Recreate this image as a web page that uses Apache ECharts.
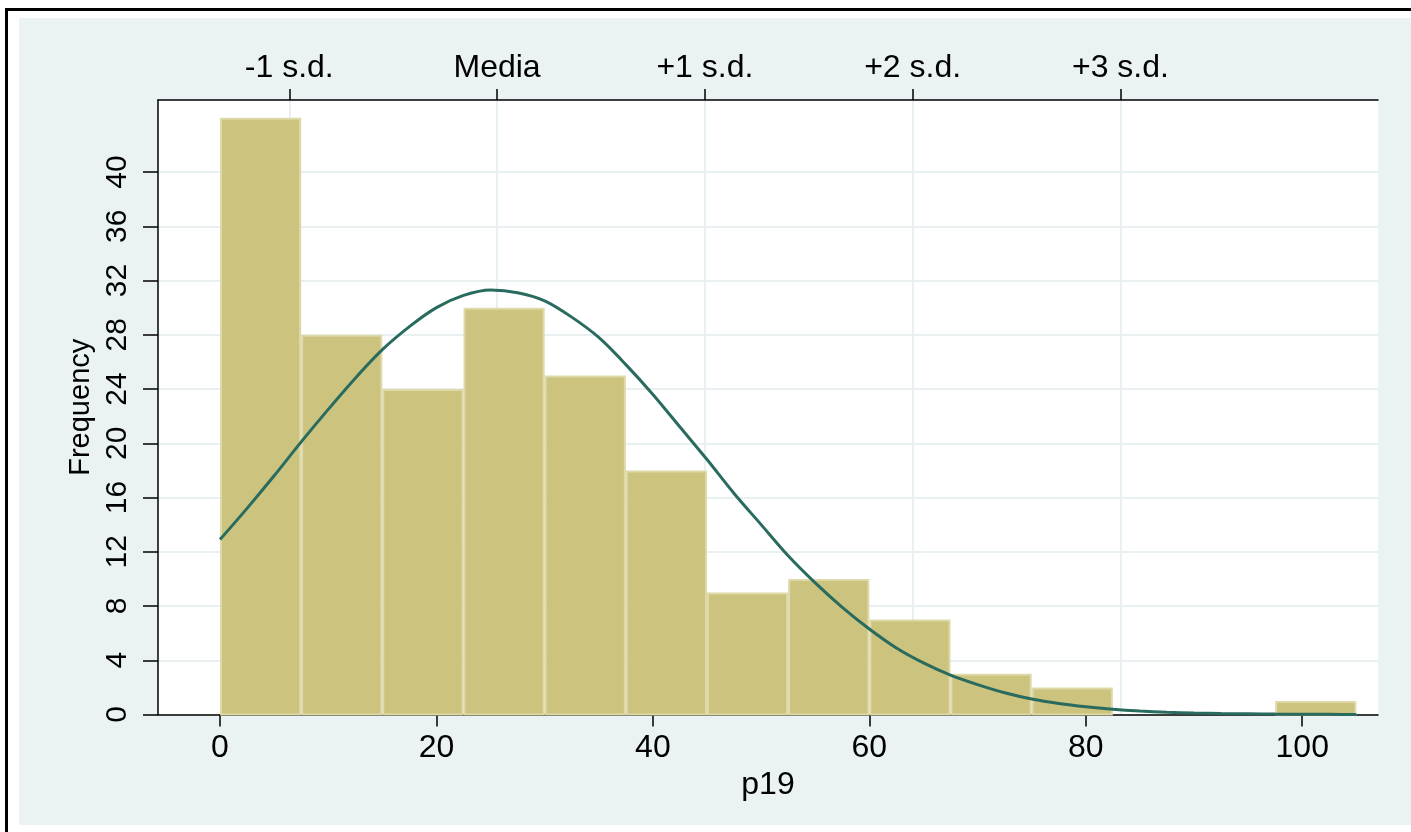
<!DOCTYPE html>
<html>
<head>
<meta charset="utf-8">
<script src="https://cdn.jsdelivr.net/npm/echarts@6/dist/echarts.min.js"></script>
<style>
  html, body { margin: 0; padding: 0; background: #fff; }
  #chart { width: 1411px; height: 832px; }
</style>
</head>
<body>
<div id="chart"></div>
<script>
// histogram of p19, bins of 7.5
const binEdges = [0, 7.5, 15, 22.5, 30, 37.5, 45, 52.5, 60, 67.5, 75, 82.5, 90, 97.5, 105];
const counts = [44, 28, 24, 30, 25, 18, 9, 10, 7, 3, 2, 0, 0, 1];

// normal curve
const curveX = [0, 2.5, 5, 7.5, 10, 12.5, 15, 17.5, 20, 22.5, 25, 27.5, 30, 32.5, 35, 37.5, 40,
  42.5, 45, 47.5, 50, 52.5, 55, 57.5, 60, 62.5, 65, 67.5, 70, 72.5, 75, 77.5, 80, 82.5, 85,
  87.5, 90, 92.5, 95, 97.5, 100, 102.5, 105];
const curveY = [12.9, 15.2, 17.6, 20.1, 22.5, 24.8, 26.9, 28.6, 30.0, 30.9, 31.3, 31.1, 30.5,
  29.3, 27.8, 25.8, 23.6, 21.2, 18.8, 16.3, 14.0, 11.7, 9.7, 7.9, 6.3, 4.9, 3.8, 2.9, 2.2,
  1.6, 1.14, 0.81, 0.57, 0.39, 0.26, 0.17, 0.11, 0.07, 0.05, 0.03, 0.02, 0.01, 0];

const xTicks = [0, 20, 40, 60, 80, 100];
const yTicks = [0, 4, 8, 12, 16, 20, 24, 28, 32, 36, 40];
const sdPositions = [6.4, 25.6, 44.8, 64.0, 83.2];
const sdLabels = ['-1 s.d.', 'Media', '+1 s.d.', '+2 s.d.', '+3 s.d.'];

const FONT = 'Liberation Sans, Arial, sans-serif';
const BG = '#EAF2F3';
const GRIDLINE = '#E8F0F2';

const chart = echarts.init(document.getElementById('chart'));

const option = {
  animation: false,
  backgroundColor: BG,
  textStyle: { fontFamily: FONT, color: '#000' },
  graphic: [
    // white margins and black frame round the graph
    { type: 'rect', shape: { x: 0, y: 0, width: 19, height: 832 }, style: { fill: '#fff' }, silent: true },
    { type: 'rect', shape: { x: 0, y: 0, width: 1411, height: 18 }, style: { fill: '#fff' }, silent: true },
    { type: 'rect', shape: { x: 0, y: 825, width: 1411, height: 7 }, style: { fill: '#fff' }, silent: true },
    { type: 'rect', shape: { x: 5, y: 8, width: 3, height: 824 }, style: { fill: '#000' }, silent: true },
    { type: 'rect', shape: { x: 5, y: 8, width: 1406, height: 3 }, style: { fill: '#000' }, silent: true },
  ],
  grid: {
    left: 158,
    right: 33,
    top: 100,
    bottom: 117.5,
    show: true,
    backgroundColor: '#fff',
    borderWidth: 0,
  },
  xAxis: [
    {
      type: 'value',
      min: -5.73,
      max: 107,
      name: 'p19',
      nameLocation: 'middle',
      nameGap: 47,
      nameTextStyle: { fontSize: 32, fontFamily: FONT, color: '#000' },
      axisLine: { show: true, onZero: false, lineStyle: { color: '#000', width: 1.5 } },
      axisTick: { show: true, length: 12, customValues: xTicks, lineStyle: { color: '#000', width: 1.5 } },
      axisLabel: { customValues: xTicks, fontSize: 32, margin: 18, color: '#000', fontFamily: FONT },
      splitLine: { show: false },
    },
    {
      type: 'value',
      position: 'top',
      min: -5.73,
      max: 107,
      axisLine: { show: true, onZero: false, lineStyle: { color: '#000', width: 1.5 } },
      axisTick: { show: true, length: 11, customValues: sdPositions, lineStyle: { color: '#000', width: 1.5 } },
      axisLabel: {
        customValues: sdPositions,
        fontSize: 32,
        margin: 16,
        color: '#000',
        fontFamily: FONT,
        formatter: v => {
          let best = 0;
          sdPositions.forEach((p, i) => {
            if (Math.abs(p - v) < Math.abs(sdPositions[best] - v)) best = i;
          });
          return sdLabels[best];
        },
      },
      splitLine: { show: true, lineStyle: { color: GRIDLINE, width: 2 } },
    },
  ],
  yAxis: {
    type: 'value',
    min: 0,
    max: 45.31,
    name: 'Frequency',
    nameLocation: 'middle',
    nameGap: 60,
    nameTextStyle: { fontSize: 29, fontFamily: FONT, color: '#000' },
    axisLine: { show: true, onZero: false, lineStyle: { color: '#000', width: 1.5 } },
    axisTick: { show: true, length: 15, customValues: yTicks, lineStyle: { color: '#000', width: 1.5 } },
    axisLabel: { customValues: yTicks, rotate: 90, fontSize: 30, margin: 25, color: '#000', fontFamily: FONT },
    splitLine: { show: true, lineStyle: { color: GRIDLINE, width: 2 } },
  },
  series: [
    {
      name: 'bins',
      type: 'custom',
      xAxisIndex: 0,
      yAxisIndex: 0,
      data: counts.map((c, i) => [binEdges[i], binEdges[i + 1], c]),
      encode: { x: [0, 1], y: 2 },
      renderItem(params, api) {
        const h = api.value(2);
        if (!h) return null;
        const p0 = api.coord([api.value(0), h]);
        const p1 = api.coord([api.value(1), 0]);
        return {
          type: 'rect',
          shape: { x: p0[0] + 1, y: p0[1] + 1, width: p1[0] - p0[0] - 2, height: p1[1] - p0[1] - 1 },
          style: { fill: '#CBC37E', stroke: '#DED9A8', lineWidth: 2 },
        };
      },
      z: 2,
    },
    {
      name: 'normal',
      type: 'line',
      xAxisIndex: 0,
      yAxisIndex: 0,
      data: curveX.map((x, i) => [x, curveY[i]]),
      smooth: 0.3,
      symbol: 'none',
      lineStyle: { color: '#2A6B5F', width: 3 },
      z: 3,
    },
  ],
};

chart.setOption(option);
</script>
</body>
</html>
